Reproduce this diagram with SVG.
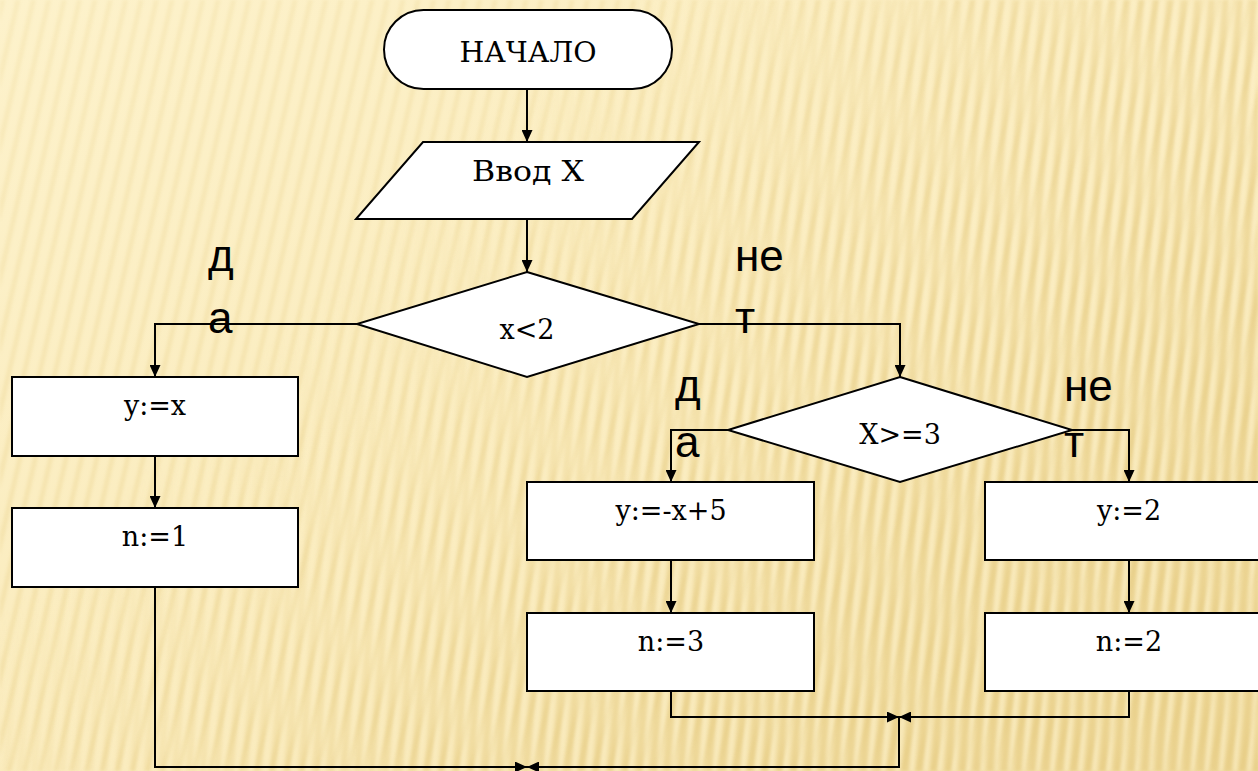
<svg xmlns="http://www.w3.org/2000/svg" width="1258" height="771" viewBox="0 0 1258 771">
  <defs>
    <linearGradient id="bgBase" x1="0" y1="0" x2="1" y2="1">
      <stop offset="0" stop-color="#FDF2CB"/>
      <stop offset="0.55" stop-color="#FAEBBC"/>
      <stop offset="1" stop-color="#F0DB9E"/>
    </linearGradient>
    <pattern id="stripesTilt" width="15" height="40" patternUnits="userSpaceOnUse" patternTransform="rotate(13)">
      <rect x="0" y="0" width="5" height="40" fill="#E9D08A"/>
    </pattern>
    <pattern id="stripesUpright" width="14" height="40" patternUnits="userSpaceOnUse" patternTransform="rotate(5)">
      <rect x="0" y="0" width="6" height="40" fill="#E3C77C"/>
      <rect x="8" y="0" width="3" height="40" fill="#FFF6D6"/>
    </pattern>
    <linearGradient id="fadeRight" x1="0" y1="0" x2="1" y2="0.6">
      <stop offset="0.35" stop-color="#fff" stop-opacity="0"/>
      <stop offset="0.75" stop-color="#fff" stop-opacity="0.7"/>
      <stop offset="1" stop-color="#fff" stop-opacity="0.9"/>
    </linearGradient>
    <linearGradient id="fadeTilt" x1="0" y1="0" x2="0.6" y2="1">
      <stop offset="0" stop-color="#fff" stop-opacity="0.45"/>
      <stop offset="1" stop-color="#fff" stop-opacity="1"/>
    </linearGradient>
    <mask id="rightMask">
      <rect width="1258" height="771" fill="url(#fadeRight)"/>
    </mask>
    <mask id="tiltMask">
      <rect width="1258" height="771" fill="url(#fadeTilt)"/>
    </mask>
    <filter id="soft" x="0" y="0" width="1" height="1">
      <feGaussianBlur stdDeviation="1.6"/>
    </filter>
    <marker id="arrow" markerUnits="userSpaceOnUse" markerWidth="13" markerHeight="11" refX="12" refY="5.5" orient="auto">
      <path d="M0,0 L12,5.5 L0,11 z" fill="#000"/>
    </marker>
    <style>
      .shape { fill: #fff; stroke: #000; stroke-width: 2; }
      .wire { fill: none; stroke: #000; stroke-width: 2; marker-end: url(#arrow); }
      .lbl { font-family: "DejaVu Serif", "Liberation Serif", serif; font-size: 27px; fill: #000; text-anchor: middle; }
      .yn { font-family: "Liberation Sans", Arial, sans-serif; font-size: 44px; fill: #000; }
    </style>
  </defs>

  <!-- striped paper background -->
  <g id="background">
    <rect width="1258" height="771" fill="url(#bgBase)"/>
    <rect width="1258" height="771" fill="url(#stripesTilt)" opacity="0.45" filter="url(#soft)" mask="url(#tiltMask)"/>
    <rect width="1258" height="771" fill="url(#stripesUpright)" opacity="0.55" filter="url(#soft)" mask="url(#rightMask)"/>
  </g>

  <!-- connectors -->
  <g id="connectors">
    <path class="wire" d="M527,89 V142"/>
    <path class="wire" d="M527,219 V272"/>
    <path class="wire" d="M357,324 H155 V377"/>
    <path class="wire" d="M699,324 H900 V377"/>
    <path class="wire" d="M155,456 V508"/>
    <path class="wire" d="M728,430 H671 V482"/>
    <path class="wire" d="M1072,430 H1129 V482"/>
    <path class="wire" d="M671,560 V613"/>
    <path class="wire" d="M1129,560 V613"/>
    <path class="wire" d="M671,691 V717 H899"/>
    <path class="wire" d="M1129,691 V717 H899"/>
    <path class="wire" d="M155,587 V767 H527"/>
    <path class="wire" d="M899,717 V767 H527"/>
  </g>

  <g id="start">
    <rect class="shape" x="384" y="10" width="288" height="79" rx="39.5" ry="39.5"/>
    <text class="lbl" x="528" y="62" textLength="137" lengthAdjust="spacingAndGlyphs">НАЧАЛО</text>
  </g>

  <g id="input">
    <polygon class="shape" points="423,142 699,142 632,219 356,219"/>
    <text class="lbl" x="528" y="181" textLength="112" lengthAdjust="spacingAndGlyphs">Ввод X</text>
  </g>

  <g id="cond1">
    <polygon class="shape" points="527,272 699,324 527,377 357,324"/>
    <text class="lbl" x="527" y="339">x&lt;2</text>
  </g>

  <g id="cond2">
    <polygon class="shape" points="900,377 1072,430 900,482 728,430"/>
    <text class="lbl" x="900" y="444">X&gt;=3</text>
  </g>

  <g id="assignY1">
    <rect class="shape" x="12" y="377" width="286" height="79"/>
    <text class="lbl" x="155" y="415">y:=x</text>
  </g>

  <g id="assignN1">
    <rect class="shape" x="12" y="508" width="286" height="79"/>
    <text class="lbl" x="155" y="546">n:=1</text>
  </g>

  <g id="assignY2">
    <rect class="shape" x="527" y="482" width="287" height="78"/>
    <text class="lbl" x="671" y="520">y:=-x+5</text>
  </g>

  <g id="assignN3">
    <rect class="shape" x="527" y="613" width="287" height="78"/>
    <text class="lbl" x="671" y="651">n:=3</text>
  </g>

  <g id="assignY3">
    <rect class="shape" x="985" y="482" width="287" height="78"/>
    <text class="lbl" x="1129" y="520">y:=2</text>
  </g>

  <g id="assignN2">
    <rect class="shape" x="985" y="613" width="287" height="78"/>
    <text class="lbl" x="1129" y="651">n:=2</text>
  </g>

  <!-- branch labels -->
  <g id="labels">
    <text class="yn" x="208" y="271">д</text>
    <text class="yn" x="208" y="333">а</text>
    <text class="yn" x="735" y="271">не</text>
    <text class="yn" x="735" y="333">т</text>
    <text class="yn" x="675" y="401">д</text>
    <text class="yn" x="675" y="457">а</text>
    <text class="yn" x="1064" y="401">не</text>
    <text class="yn" x="1064" y="457">т</text>
  </g>
</svg>
